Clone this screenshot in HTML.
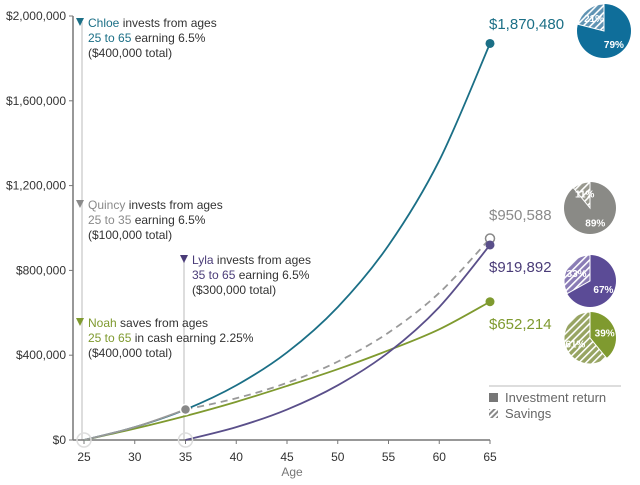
<!DOCTYPE html>
<html><head><meta charset="utf-8"><style>
html,body{margin:0;padding:0;background:#fff;}
svg{display:block;font-family:"Liberation Sans",sans-serif;}
</style></head><body>
<svg id="c" width="640" height="485" viewBox="0 0 640 485">
<defs>
<pattern id="hBlue" width="5" height="5" patternUnits="userSpaceOnUse" patternTransform="rotate(45)"><rect width="5" height="5" fill="#5f93b3"/><rect width="1.6" height="5" fill="#fff"/></pattern>
<pattern id="hGray" width="5" height="5" patternUnits="userSpaceOnUse" patternTransform="rotate(45)"><rect width="5" height="5" fill="#99998f"/><rect width="1.6" height="5" fill="#fff"/></pattern>
<pattern id="hPurple" width="5" height="5" patternUnits="userSpaceOnUse" patternTransform="rotate(45)"><rect width="5" height="5" fill="#8a7cb5"/><rect width="1.6" height="5" fill="#fff"/></pattern>
<pattern id="hGreen" width="5" height="5" patternUnits="userSpaceOnUse" patternTransform="rotate(45)"><rect width="5" height="5" fill="#97a462"/><rect width="1.6" height="5" fill="#fff"/></pattern>
<pattern id="hLeg" width="4" height="4" patternUnits="userSpaceOnUse" patternTransform="rotate(45)"><rect width="4" height="4" fill="#888"/><rect width="2" height="4" fill="#fff"/></pattern>
</defs>
<g id="axes"></g><g id="lines"></g><g id="labels"></g>
</svg>
<script>
const ages = [25,30,35,40,45,50,55,60,65];
const chloe = [0,60600,143700,257600,413000,627000,918000,1318000,1870480];
const quincy = [null,null,143700,196900,269800,369700,506500,694000,950588];
const lyla = [null,null,0,60600,143700,258000,413000,627000,919892];
const noah = [0,53500,113200,180000,255000,334000,423000,522000,652214];
const yTicks = [0,400000,800000,1200000,1600000,2000000];
const yTickLabels = ["$0","$400,000","$800,000","$1,200,000","$1,600,000","$2,000,000"];
const xTicks = [25,30,35,40,45,50,55,60,65];
const pieSavings = [21,11,33,61];

const NS="http://www.w3.org/2000/svg";
const X=a=>84+(a-25)*(490-84)/40;
const Y=v=>440-v*(440-16)/2000000;
function mk(t,attrs,parent,txt){const e=document.createElementNS(NS,t);for(const k in attrs)e.setAttribute(k,attrs[k]);if(txt!=null)e.textContent=txt;parent.appendChild(e);return e;}
const ax=document.getElementById('axes'),ln=document.getElementById('lines'),lb=document.getElementById('labels');

let g1=mk('line',{x1:82,y1:22,x2:82,y2:440,stroke:'#ddd','stroke-width':2},ax);


let g2=mk('line',{x1:184,y1:262,x2:184,y2:440,stroke:'#ddd','stroke-width':2},ax);



let ya=mk('line',{x1:73,y1:16,x2:73,y2:440,stroke:'#777','stroke-width':1.5},ax);


let xa=mk('line',{x1:73,y1:440,x2:490,y2:440,stroke:'#777','stroke-width':1.5},ax);


yTicks.forEach((v,i)=>{
  mk('line',{x1:69,y1:Y(v),x2:73,y2:Y(v),stroke:'#777'},ax);
  const t=mk('text',{x:66,y:Y(v)+4,'text-anchor':'end','font-size':12,fill:'#333'},ax,yTickLabels[i]);
  
  
});
xTicks.forEach(a=>{
  mk('line',{x1:X(a),y1:440,x2:X(a),y2:444,stroke:'#777'},ax);
  const t=mk('text',{x:X(a),y:461,'text-anchor':'middle','font-size':12,fill:'#333'},ax,a);
  
  
});
let at=mk('text',{x:292,y:476,'text-anchor':'middle','font-size':12,fill:'#777'},ax,'Age');



function pathD(vals){
  const p=[];ages.forEach((a,i)=>{if(vals[i]!=null)p.push([X(a),Y(vals[i])]);});
  let d='M'+p[0][0]+','+p[0][1];
  for(let i=0;i<p.length-1;i++){
    const p0=p[i-1]||p[i],p1=p[i],p2=p[i+1],p3=p[i+2]||p2;
    const c1=[p1[0]+(p2[0]-p0[0])/6,p1[1]+(p2[1]-p0[1])/6];
    const c2=[p2[0]-(p3[0]-p1[0])/6,p2[1]-(p3[1]-p1[1])/6];
    d+=` C${c1[0]},${c1[1]} ${c2[0]},${c2[1]} ${p2[0]},${p2[1]}`;
  }
  return d;
}
let pn=mk('path',{d:pathD(noah),fill:'none',stroke:'#7f9a2f','stroke-width':1.8},ln);


let pq=mk('path',{d:pathD(quincy),fill:'none',stroke:'#999','stroke-width':1.8,'stroke-dasharray':'7,5'},ln);


let pl=mk('path',{d:pathD(lyla),fill:'none',stroke:'#5a4f8a','stroke-width':1.8},ln);


let pc=mk('path',{d:pathD(chloe),fill:'none',stroke:'#1b6f86','stroke-width':1.8},ln);


let pcg=mk('path',{d:pathD(chloe.map((v,i)=>ages[i]<=35?v:null)),fill:'none',stroke:'#999','stroke-width':1.8},ln);



function dot(x,y,fill,stroke,name,r){const c=mk('circle',{cx:x,cy:y,r:r||5,fill:fill,stroke:stroke,'stroke-width':1.5},ln);}
dot(X(25),Y(0),'none','#ddd','start-marker-25',7);
dot(X(35),Y(0),'none','#ddd','start-marker-35',7);
dot(X(35),Y(quincy[2]),'#888','#fff','quincy-stop-marker',5);
dot(X(65),Y(chloe[8]),'#1b6f86','none','chloe-end-dot',4.5);
dot(X(65),Y(quincy[8]),'#fff','#888','quincy-end-dot',4.5);
dot(X(65),Y(lyla[8]),'#5a4f8a','none','lyla-end-dot',4.5);
dot(X(65),Y(noah[8]),'#7f9a2f','none','noah-end-dot',4.5);

function val(txt,y,col,name){const t=mk('text',{x:489,y:y,'font-size':15,fill:col},lb,txt);}
val('$1,870,480',29,'#1b6f86','chloe-total');
val('$950,588',220,'#8a8a8a','quincy-total');
val('$919,892',272,'#4a3c78','lyla-total');
val('$652,214',329,'#7f9a2f','noah-total');

const pies=[[604,31,27,'#0f6e9a','url(#hBlue)','chloe-pie'],[590,208,26,'#8a8a86','url(#hGray)','quincy-pie'],[590,281,26,'#5b4b96','url(#hPurple)','lyla-pie'],[590,338,26,'#7f9a2f','url(#hGreen)','noah-pie']];
pies.forEach((p,i)=>{
  const [cx,cy,r,col,hat,name]=p;const s=pieSavings[i]/100;
  const g=mk('g',{},lb);
  mk('circle',{cx,cy,r,fill:col},g);
  const ang=-Math.PI/2-s*2*Math.PI;const ex=cx+r*Math.cos(ang),ey=cy+r*Math.sin(ang);
  mk('path',{d:`M${cx},${cy} L${cx},${cy-r} A${r},${r} 0 ${s>0.5?1:0} 0 ${ex},${ey} Z`,fill:hat,stroke:'#fff','stroke-width':1},g);
  const ma=-Math.PI/2-s*Math.PI,ia=-Math.PI/2+(1-s)*Math.PI;
  const rr=r*0.6;
  mk('text',{x:cx+rr*Math.cos(ma),y:cy+rr*Math.sin(ma)+4,'text-anchor':'middle','font-size':10,fill:'#fff','font-weight':'bold'},g,pieSavings[i]+'%');
  mk('text',{x:cx+rr*Math.cos(ia),y:cy+rr*Math.sin(ia)+4,'text-anchor':'middle','font-size':10,fill:'#fff','font-weight':'bold'},g,(100-pieSavings[i])+'%');
});

function note(x,y,col,name,nm,l1,r1,l2,l3,id){
  const g=mk('g',{},lb);
  mk('path',{d:`M${x},${y-9} l8,0 l-4,8 z`,fill:col},g);
  const t=mk('text',{x:x+12,y:y,'font-size':12,fill:'#333'},g);
  mk('tspan',{fill:col},t,nm);mk('tspan',{},t,' '+l1);
  const t2=mk('text',{x:x+12,y:y+15,'font-size':12,fill:'#333'},g);
  mk('tspan',{fill:col},t2,r1);mk('tspan',{},t2,' '+l2);
  mk('text',{x:x+12,y:y+30,'font-size':12,fill:'#333'},g,l3);
}
note(76,27,'#1b6f86','c','Chloe','invests from ages','25 to 65','earning 6.5%','($400,000 total)','chloe-annotation');
note(76,209,'#8a8a8a','q','Quincy','invests from ages','25 to 35','earning 6.5%','($100,000 total)','quincy-annotation');
note(180,264,'#4a3c78','l','Lyla','invests from ages','35 to 65','earning 6.5%','($300,000 total)','lyla-annotation');
note(76,327,'#7f9a2f','n','Noah','saves from ages','25 to 65','in cash earning 2.25%','($400,000 total)','noah-annotation');

const lg=mk('g',{},lb);
mk('line',{x1:489,y1:386,x2:621,y2:386,stroke:'#bbb'},lg);
const le1=mk('g',{},lg);
mk('rect',{x:489,y:393,width:9,height:9,fill:'#777'},le1);
mk('text',{x:505,y:402,'font-size':13,fill:'#666'},le1,'Investment return');
const le2=mk('g',{},lg);
mk('rect',{x:489,y:409,width:9,height:9,fill:'url(#hLeg)'},le2);
mk('text',{x:505,y:418,'font-size':13,fill:'#666'},le2,'Savings');
</script>
</body></html>
